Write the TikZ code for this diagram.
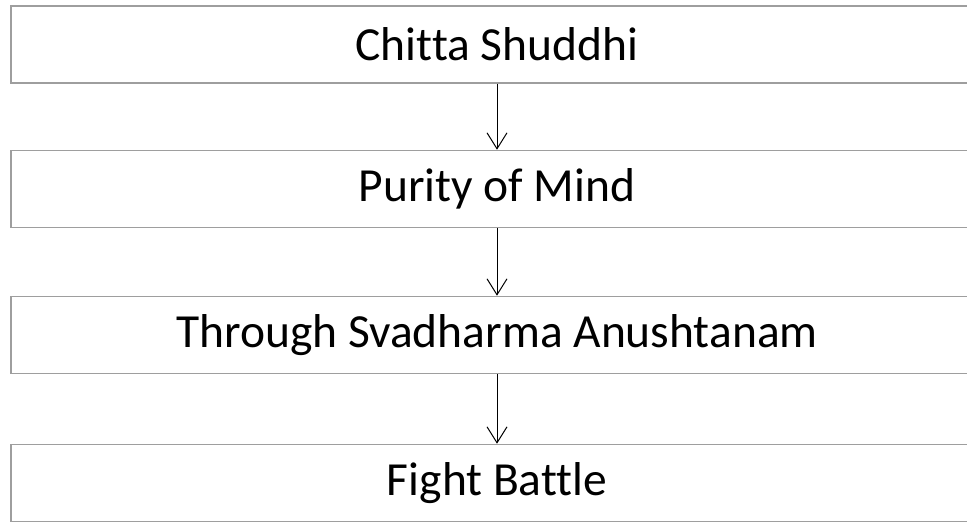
\documentclass[tikz,border=0pt]{standalone}
\usepackage{fontspec}
\setmainfont[Ligatures=NoCommon]{Carlito}
\usetikzlibrary{arrows.meta}
\begin{document}
\begin{tikzpicture}[x=1pt,y=1pt,
  stepbox/.style={draw=black!38, line width=1.5pt, minimum width=972pt, minimum height=77pt, inner sep=0pt, font=\fontsize{47.5}{56}\selectfont, anchor=center},
  flow/.style={draw=black, line width=1pt, -{Straight Barb[length=16pt,width=20pt,line width=1pt]}}]
\useasboundingbox (0,0) rectangle (967,526);
\clip (0,0) rectangle (967,526);
\node[stepbox] (a) at (497,481.5) {Chitta Shuddhi};
\node[stepbox] (b) at (497,337) {Purity of Mind};
\node[stepbox] (c) at (497,191) {Through Svadharma Anushtanam};
\node[stepbox] (d) at (497,43) {Fight Battle};
\draw[flow] (a.south) -- (b.north);
\draw[flow] (b.south) -- (c.north);
\draw[flow] (c.south) -- (d.north);
\end{tikzpicture}
\end{document}
